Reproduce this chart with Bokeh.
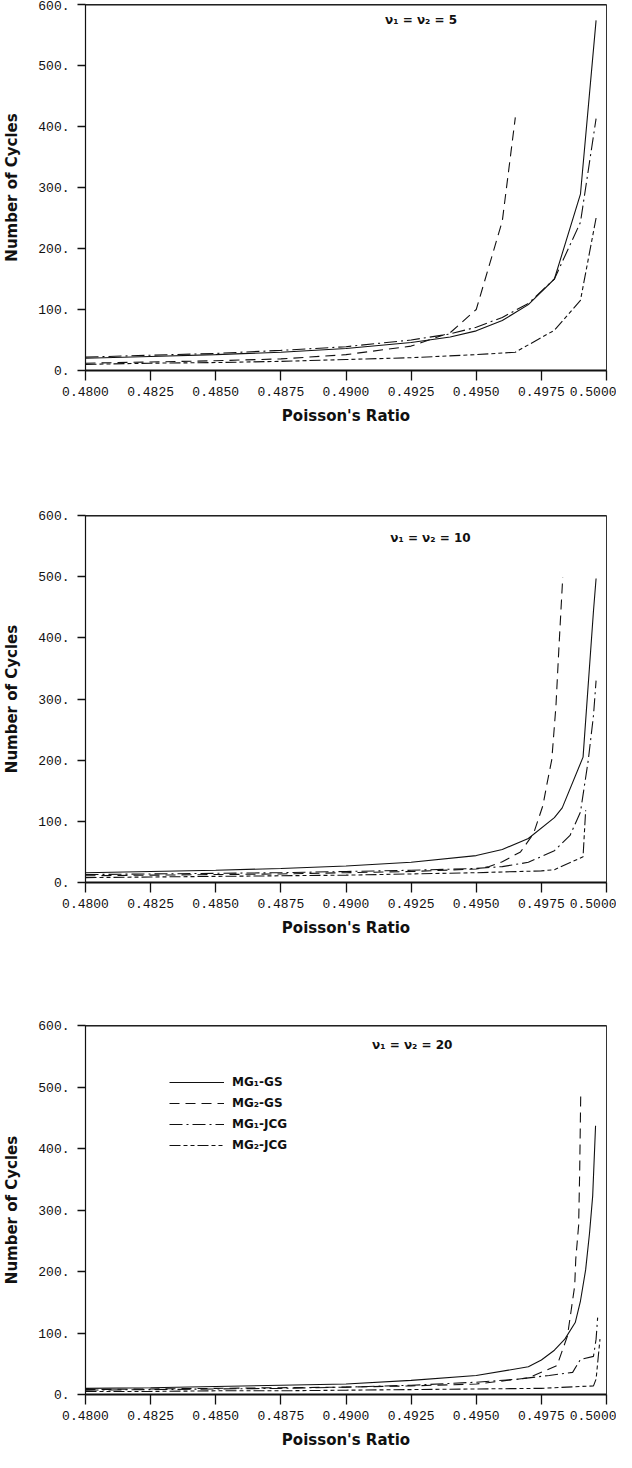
from bokeh.plotting import figure
from bokeh.layouts import column
from bokeh.models import (Range1d, FixedTicker, CustomJSTickFormatter, Label, Span,
                          Legend, LegendItem)
from bokeh.embed import file_html
from bokeh.resources import INLINE

# ---------------- data ----------------
x_ticks = [0.4800, 0.4825, 0.4850, 0.4875, 0.4900, 0.4925, 0.4950, 0.4975, 0.5000]
x_tick_labels = ["0.4800", "0.4825", "0.4850", "0.4875", "0.4900", "0.4925", "0.4950", "0.4975", "0.5000"]
y_ticks = [0, 100, 200, 300, 400, 500, 600]
y_tick_labels = ["0.", "100.", "200.", "300.", "400.", "500.", "600."]

series_names = ["MG\u2081-GS", "MG\u2082-GS", "MG\u2081-JCG", "MG\u2082-JCG"]
panel_titles = ["\u03bd\u2081 = \u03bd\u2082 = 5", "\u03bd\u2081 = \u03bd\u2082 = 10", "\u03bd\u2081 = \u03bd\u2082 = 20"]

# panel 1 (nu1 = nu2 = 5)
p1_mg1_gs_x = [0.480, 0.4825, 0.485, 0.4875, 0.490, 0.4925, 0.494, 0.495, 0.496, 0.497, 0.498, 0.499, 0.4996]
p1_mg1_gs_y = [20, 23, 26, 30, 36, 46, 55, 65, 82, 108, 150, 289, 574]
p1_mg2_gs_x = [0.480, 0.4825, 0.485, 0.4875, 0.490, 0.4925, 0.494, 0.495, 0.496, 0.4965]
p1_mg2_gs_y = [12, 14, 16, 19, 26, 40, 62, 100, 245, 415]
p1_mg1_jcg_x = [0.480, 0.4825, 0.485, 0.4875, 0.490, 0.4925, 0.494, 0.495, 0.496, 0.497, 0.498, 0.499, 0.4996]
p1_mg1_jcg_y = [22, 25, 28, 33, 39, 50, 60, 71, 87, 110, 150, 243, 413]
p1_mg2_jcg_x = [0.480, 0.4825, 0.485, 0.4875, 0.490, 0.4925, 0.495, 0.4965, 0.498, 0.499, 0.4996]
p1_mg2_jcg_y = [10, 12, 13, 15, 18, 21, 26, 30, 66, 115, 250]

# panel 2 (nu1 = nu2 = 10)
p2_mg1_gs_x = [0.480, 0.4825, 0.485, 0.4875, 0.490, 0.4925, 0.495, 0.496, 0.497, 0.498, 0.4983, 0.4991, 0.4995, 0.4996]
p2_mg1_gs_y = [16, 18, 20, 23, 27, 33, 44, 54, 72, 106, 122, 205, 444, 497]
p2_mg2_gs_x = [0.480, 0.4825, 0.485, 0.4875, 0.490, 0.4925, 0.495, 0.4955, 0.496, 0.4967, 0.4972, 0.49756, 0.4977, 0.4979, 0.49806, 0.49817, 0.49832]
p2_mg2_gs_y = [11, 12, 13, 14, 16, 18, 22, 26, 34, 50, 80, 126, 158, 201, 289, 381, 499]
p2_mg1_jcg_x = [0.480, 0.4825, 0.485, 0.4875, 0.490, 0.4925, 0.495, 0.496, 0.497, 0.498, 0.4986, 0.499, 0.4993, 0.4995, 0.4996]
p2_mg1_jcg_y = [13, 14, 15, 16, 18, 20, 23, 26, 33, 52, 77, 115, 200, 273, 330]
p2_mg2_jcg_x = [0.480, 0.4825, 0.485, 0.4875, 0.490, 0.4925, 0.495, 0.4975, 0.498, 0.4991, 0.4992]
p2_mg2_jcg_y = [8, 9, 10, 11, 12, 14, 16, 19, 21, 42, 118]

# panel 3 (nu1 = nu2 = 20)
p3_mg1_gs_x = [0.480, 0.4825, 0.485, 0.4875, 0.490, 0.4925, 0.495, 0.497, 0.4975, 0.498, 0.4984, 0.4988, 0.499, 0.4992, 0.49935, 0.49947, 0.49958]
p3_mg1_gs_y = [10, 11, 13, 15, 17, 23, 31, 45, 56, 72, 90, 117, 152, 203, 263, 323, 437]
p3_mg2_gs_x = [0.480, 0.4825, 0.485, 0.4875, 0.490, 0.4925, 0.495, 0.497, 0.4981, 0.4985, 0.49863, 0.49878, 0.49882, 0.49893, 0.49897, 0.49901]
p3_mg2_gs_y = [8, 9, 10, 11, 12, 14, 17, 27, 47, 95, 133, 177, 220, 275, 361, 486]
p3_mg1_jcg_x = [0.480, 0.4825, 0.485, 0.4875, 0.490, 0.4925, 0.495, 0.4966, 0.4978, 0.4987, 0.499, 0.4995, 0.4996, 0.49966]
p3_mg1_jcg_y = [7, 8, 9, 10, 12, 15, 20, 25, 31, 36, 57, 62, 90, 125]
p3_mg2_jcg_x = [0.480, 0.4825, 0.485, 0.4875, 0.490, 0.4925, 0.495, 0.4975, 0.498, 0.4995, 0.4996, 0.49975]
p3_mg2_jcg_y = [5, 5, 6, 6, 7, 8, 9, 10, 11, 14, 25, 90]

panels = [
    [(p1_mg1_gs_x, p1_mg1_gs_y), (p1_mg2_gs_x, p1_mg2_gs_y), (p1_mg1_jcg_x, p1_mg1_jcg_y), (p1_mg2_jcg_x, p1_mg2_jcg_y)],
    [(p2_mg1_gs_x, p2_mg1_gs_y), (p2_mg2_gs_x, p2_mg2_gs_y), (p2_mg1_jcg_x, p2_mg1_jcg_y), (p2_mg2_jcg_x, p2_mg2_jcg_y)],
    [(p3_mg1_gs_x, p3_mg1_gs_y), (p3_mg2_gs_x, p3_mg2_gs_y), (p3_mg1_jcg_x, p3_mg1_jcg_y), (p3_mg2_jcg_x, p3_mg2_jcg_y)],
]

# ---------------- styling ----------------
INK = "#111111"
dashes = ["solid", "10 6", "13 4 2 4", "11 3 4 3 4 3"]
TICK_FONT = "Liberation Mono"
LABEL_FONT = "DejaVu Sans"

# (top border, frame height, bottom border)
layout_spec = [(4, 366, 114), (31, 367, 86), (57, 369, 58)]
ann_pos = [(0.4915, 574), (0.4917, 564), (0.4910, 569)]

fmt_code = """
for (let i = 0; i < tv.length; i++) {
    if (Math.abs(tick - tv[i]) < 1e-9) { return tl[i]; }
}
return "";
"""


def make_panel(idx):
    top, fh, bot = layout_spec[idx]
    p = figure(width=616, height=top + fh + bot, output_backend="svg", toolbar_location=None,
               x_range=Range1d(x_ticks[0], x_ticks[-1]), y_range=Range1d(y_ticks[0], y_ticks[-1]),
               min_border_left=83, min_border_right=10, min_border_top=top, min_border_bottom=bot,
               x_axis_label="Poisson's Ratio", y_axis_label="Number of Cycles")
    p.grid.visible = False
    p.outline_line_color = "#333333"
    p.outline_line_width = 1
    p.background_fill_color = "white"
    p.border_fill_color = "white"

    xa = p.xaxis[0]
    xa.ticker = FixedTicker(ticks=x_ticks)
    xa.formatter = CustomJSTickFormatter(args=dict(tv=x_ticks, tl=x_tick_labels), code=fmt_code)
    xa.major_tick_out = 10
    xa.major_tick_in = 0
    xa.minor_tick_out = 0
    xa.minor_tick_in = 0
    xa.major_tick_line_color = INK
    xa.major_tick_line_width = 1.3
    xa.axis_line_color = INK
    xa.axis_line_width = 2
    xa.major_label_standoff = 6
    xa.major_label_text_font = TICK_FONT
    xa.major_label_text_font_size = "13px"
    xa.major_label_text_color = INK
    xa.axis_label_text_font = LABEL_FONT
    xa.axis_label_text_font_style = "bold"
    xa.axis_label_text_font_size = "15px"
    xa.axis_label_text_color = INK
    xa.axis_label_standoff = 8

    ya = p.yaxis[0]
    ya.ticker = FixedTicker(ticks=y_ticks)
    ya.formatter = CustomJSTickFormatter(args=dict(tv=y_ticks, tl=y_tick_labels), code=fmt_code)
    ya.major_tick_out = 8
    ya.major_tick_in = 0
    ya.minor_tick_out = 0
    ya.minor_tick_in = 0
    ya.major_tick_line_color = INK
    ya.major_tick_line_width = 1.5
    ya.axis_line_color = INK
    ya.axis_line_width = 1.2
    ya.major_label_standoff = 8
    ya.major_label_text_font = TICK_FONT
    ya.major_label_text_font_size = "13px"
    ya.major_label_text_color = INK
    ya.axis_label_text_font = LABEL_FONT
    ya.axis_label_text_font_style = "bold"
    ya.axis_label_text_font_size = "15px"
    ya.axis_label_text_color = INK
    ya.axis_label_standoff = 14

    # heavier top border
    p.add_layout(Span(location=y_ticks[-1], dimension="width", line_color=INK, line_width=2.2))

    renderers = []
    for (xs, ys), dash in zip(panels[idx], dashes):
        r = p.line(xs, ys, line_color=INK, line_width=1.1, line_dash=dash)
        renderers.append(r)

    ax, ay = ann_pos[idx]
    p.add_layout(Label(x=ax, y=ay, text=panel_titles[idx], text_font=LABEL_FONT,
                       text_font_style="bold", text_font_size="12px", text_color=INK,
                       text_baseline="middle", text_align="left"))

    if idx == 2:
        items = [LegendItem(label=n, renderers=[r]) for n, r in zip(series_names, renderers)]
        leg = Legend(items=items, location=(84, 239), orientation="vertical",
                     glyph_width=55, glyph_height=20, label_height=20, spacing=1,
                     label_standoff=8, padding=0, margin=0,
                     border_line_color=None, background_fill_alpha=0,
                     label_text_font=LABEL_FONT, label_text_font_style="bold",
                     label_text_font_size="12px", label_text_color=INK)
        p.add_layout(leg)
    return p


plots = [make_panel(i) for i in range(3)]
layout = column(*plots, spacing=0)

open("out.html", "w").write(file_html(layout, INLINE))
